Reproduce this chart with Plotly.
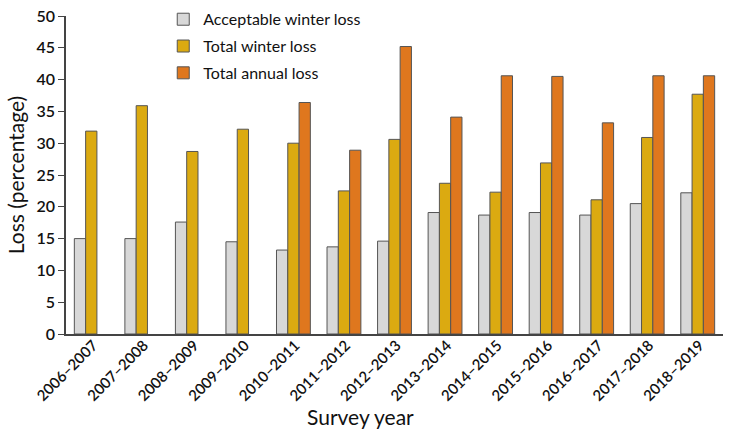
import plotly.graph_objects as go

years = ["2006–2007", "2007–2008", "2008–2009", "2009–2010", "2010–2011", "2011–2012",
         "2012–2013", "2013–2014", "2014–2015", "2015–2016", "2016–2017", "2017–2018", "2018–2019"]
acceptable = [15.0, 15.0, 17.6, 14.5, 13.2, 13.7, 14.6, 19.1, 18.7, 19.1, 18.7, 20.5, 22.2]
total_winter = [31.9, 35.9, 28.7, 32.2, 30.0, 22.5, 30.6, 23.7, 22.3, 26.9, 21.1, 30.9, 37.7]
total_annual = [None, None, None, None, 36.4, 28.9, 45.2, 34.1, 40.6, 40.5, 33.2, 40.6, 40.6]

font = "Lato, 'Open Sans', sans-serif"
edge = dict(color="#555555", width=1)

fig = go.Figure()
fig.add_bar(x=years, y=acceptable, name="Acceptable winter loss", legendgroup="a",
            marker=dict(color="#d8d8d8", line=edge))
fig.add_bar(x=years, y=total_winter, name="Total winter loss", legendgroup="b",
            marker=dict(color="#dbaa11", line=edge))
fig.add_bar(x=years, y=total_annual, name="Total annual loss", legendgroup="c",
            marker=dict(color="#df771e", line=edge))

fig.update_layout(
    width=730, height=440,
    margin=dict(l=66, r=7, t=16, b=106, autoexpand=False),
    paper_bgcolor="white", plot_bgcolor="white",
    barmode="group", bargap=0.33, bargroupgap=0,
    font=dict(family=font, size=16, color="#111111"),
    showlegend=True,
    legend=dict(x=0.148, y=1.043, xanchor="left", yanchor="top",
                bgcolor="rgba(0,0,0,0)", font=dict(size=16),
                itemwidth=30, tracegroupgap=3),
    xaxis=dict(tickangle=-45, showline=True, linecolor="#444444", linewidth=1.5,
               ticks="", automargin=False, ticklabelstandoff=-5, ticklabelshift=2,
               tickfont=dict(size=15, weight=600)),
    yaxis=dict(range=[0, 50], dtick=5, showgrid=False, zeroline=False,
               showline=True, linecolor="#444444", linewidth=1.5,
               ticks="outside", ticklen=6, tickcolor="#444444", automargin=False,
               tickfont=dict(size=16, weight=600),
               title=dict(text="Loss (percentage)", font=dict(size=21), standoff=6)),
    annotations=[dict(text="Survey year", xref="paper", yref="paper",
                      x=0.449, y=-0.258, xanchor="center", yanchor="middle",
                      showarrow=False, font=dict(size=21, family=font, color="#111111"))],
)

fig.write_html("out.html", config={"displayModeBar": False},
               post_script="document.body.style.margin='0px';document.body.style.overflow='hidden';")
